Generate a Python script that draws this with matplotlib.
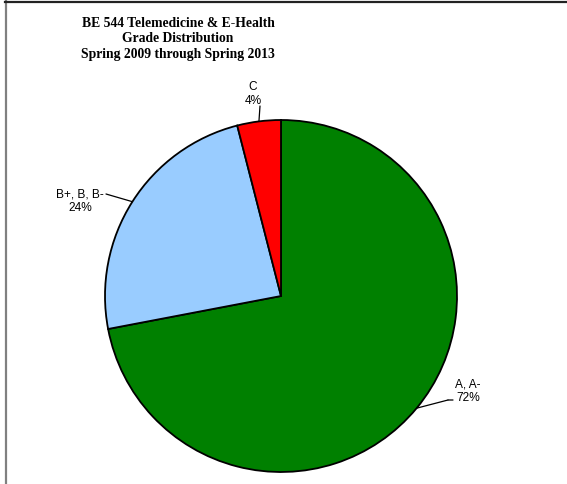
import numpy as np
import matplotlib
matplotlib.use("Agg")
import matplotlib.pyplot as plt
from matplotlib.lines import Line2D

categories = ["A, A-", "B+, B, B-", "C"]
values = [72, 24, 4]
colors = ["#008000", "#99CCFF", "#FF0000"]

W, H = 567, 485
fig = plt.figure(figsize=(W / 100, H / 100), dpi=100)
fig.patch.set_facecolor("white")

cx, cy, r = 281, 297, 176
ax = fig.add_axes([(cx - r) / W, (H - cy - r) / H, 2 * r / W, 2 * r / H])
ax.set_xlim(-1, 1)
ax.set_ylim(-1, 1)
ax.axis("off")

wedges, _ = ax.pie(values, colors=colors, startangle=90, counterclock=False,
                   radius=1, wedgeprops=dict(edgecolor="black", linewidth=1.3))
ax.set_xlim(-1, 1)
ax.set_ylim(-1, 1)

def px(x, y):
    return ((x - cx) / r, (cy - y) / r)

# label text positions (pixel) and leader line end points (pixel)
label_pos = {0: (468, 391), 1: (80, 201), 2: (253, 94)}
line_end = {0: (448, 401), 1: (106, 195), 2: (260, 107)}

for i, w in enumerate(wedges):
    mid = np.deg2rad((w.theta1 + w.theta2) / 2)
    xy = (np.cos(mid), np.sin(mid))
    end = px(*line_end[i])
    ax.annotate("", xy=xy, xytext=end,
                arrowprops=dict(arrowstyle="-", color="black", lw=0.9,
                                shrinkA=0, shrinkB=0), annotation_clip=False)
    tx, ty = px(*label_pos[i])
    ax.text(tx, ty, f"{categories[i]}\n{values[i]}%", ha="center", va="center",
            fontsize=8.6, family="Liberation Sans", linespacing=1.2, clip_on=False)

# small horizontal tick on A label leader
ax.annotate("", xy=px(*line_end[0]), xytext=px(453, 401),
            arrowprops=dict(arrowstyle="-", color="black", lw=0.9,
                            shrinkA=0, shrinkB=0), annotation_clip=False)

fig.text(178 / W, 1 - 39 / H,
         "BE 544 Telemedicine & E-Health\nGrade Distribution\nSpring 2009 through Spring 2013",
         ha="center", va="center", fontsize=9.8, fontweight="bold",
         family="Liberation Serif", linespacing=1.22)

# frame lines
fig.add_artist(Line2D([5.5 / W, 5.5 / W], [0, 1 - 2 / H], color="#808080", lw=1.6,
                      transform=fig.transFigure))
fig.add_artist(Line2D([5 / W, 1], [1 - 2.5 / H, 1 - 2.5 / H], color="#222222", lw=1.6,
                      transform=fig.transFigure))

fig.savefig("out.png", dpi=100)
